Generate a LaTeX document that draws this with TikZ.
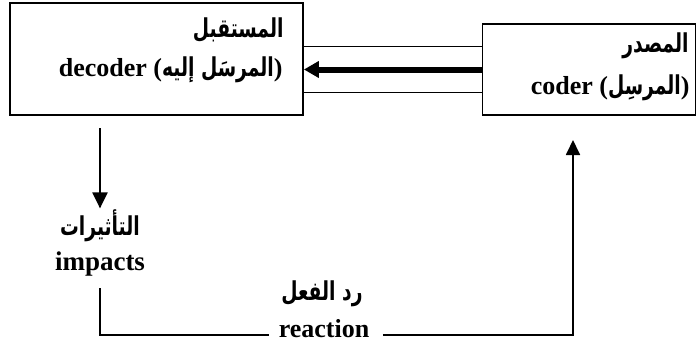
\documentclass[tikz,border=0pt]{standalone}
\usepackage{fontspec}
\setmainfont{Liberation Serif}
\newfontfamily\arabicfont[Script=Arabic,FakeStretch=0.72]{DejaVu Sans}
\TeXXeTstate=1
\usetikzlibrary{arrows.meta}
\newcommand{\arsz}{\fontsize{26}{30}\selectfont}
\begin{document}
\begin{tikzpicture}[x=1pt,y=-1pt,
  box/.style={draw,line width=1.8pt,inner sep=0pt},
  lat/.style={font=\fontsize{26}{29}\selectfont\bfseries},
  ar/.style={font=\arsz\arabicfont\bfseries},
  thin/.style={line width=1.4pt},
  conn/.style={line width=2.2pt,-{Triangle[length=16pt,width=15pt]}},
  thick/.style={line width=6pt,-{Triangle[length=15pt,width=16pt]}}]
\useasboundingbox (0,0) rectangle (697,343);
\node[box,minimum width=293pt,minimum height=112pt] (L) at (156.5,59) {};
\node[box,minimum width=213pt,minimum height=91pt] (R) at (589,69.5) {};
% texts in left box
\node[ar,anchor=east] (Lt1) at (287,30) {\beginR المستقبل\endR};
\node[lat,anchor=east] (Lt2) at (286,70) {decoder ({\arabicfont\arsz\beginR المرسَل إليه\endR})};
% texts in right box
\node[ar,anchor=east] (Rt1) at (692,46) {\beginR المصدر\endR};
\node[lat,anchor=east] (Rt2) at (693,88) {coder ({\arabicfont\arsz\beginR المرسِل\endR})};
% connectors between boxes
\draw[thin] ([yshift=-23pt]R.west) -- ([yshift=-23pt]R.west -| L.east);
\draw[thin] ([yshift=23pt]R.west) -- ([yshift=23pt]R.west -| L.east);
\draw[thick] (R.west) -- (R.west -| L.east);
% impacts
\node[ar] (imp1) at (100,226) {\beginR التأثيرات\endR};
\node[lat,font=\fontsize{27}{30}\selectfont\bfseries] (imp2) at (100,264) {impacts};
\coordinate (d0) at (100,128);
\draw[conn] (d0) -- ([yshift=-2pt]imp1.north);
% reaction
\node[ar] (re1) at (322,294) {\beginR رد الفعل\endR};
\node[lat,font=\fontsize{26}{30}\selectfont\bfseries] (re2) at (324,329) {reaction};
\coordinate (c1) at (100,335);
\coordinate (c2) at (573,335);
\coordinate (c3) at (573,140);
\draw[thin] (100,288) -- (c1) -- ([xshift=-6pt]c1 -| re2.west);
\draw[thin,line width=1.8pt,-{Triangle[length=15pt,width=14pt]}] ([xshift=10pt]c2 -| re2.east) -- (c2) -- (c3);
\end{tikzpicture}
\end{document}
